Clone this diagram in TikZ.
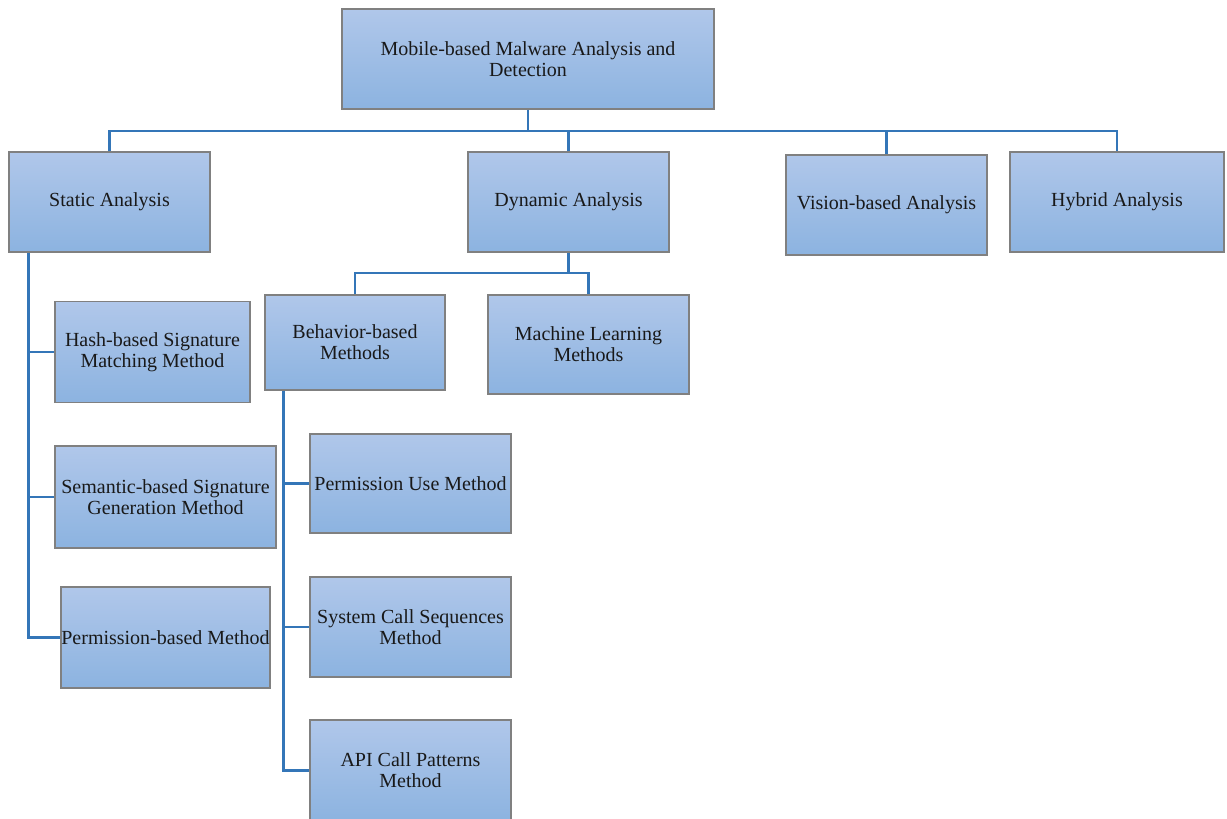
\documentclass[tikz,border=0pt]{standalone}
\usepackage{fontspec}
\setmainfont{Liberation Serif}
\usetikzlibrary{calc}
\definecolor{boxtop}{RGB}{176,199,234}
\definecolor{boxbot}{RGB}{140,179,224}
\definecolor{boxline}{RGB}{128,128,128}
\definecolor{connblue}{RGB}{52,118,184}
\begin{document}
\begin{tikzpicture}[x=1pt,y=-1pt,
  mbox/.style={rectangle, draw=boxline, line width=1.3pt, top color=boxtop, bottom color=boxbot,
    align=center, inner sep=0pt, font=\fontsize{20}{21}\selectfont, text=black!90},
  conn/.style={draw=connblue, line width=2.8pt}]
\useasboundingbox (0,0) rectangle (1227,819);
% nodes
\node[mbox, minimum width=372pt, minimum height=100pt] (root) at (528,59) {Mobile-based Malware Analysis and\\Detection};
\node[mbox, minimum width=201pt, minimum height=100pt] (static) at (109.5,202) {Static Analysis};
\node[mbox, minimum width=201pt, minimum height=100pt] (dynamic) at (568.5,202) {Dynamic Analysis};
\node[mbox, minimum width=201pt, minimum height=100pt] (vision) at (886.5,205) {Vision-based Analysis};
\node[mbox, minimum width=214pt, minimum height=100pt] (hybrid) at (1117,202) {Hybrid Analysis};
\node[mbox, minimum width=195pt, minimum height=101pt] (hash) at (152.5,352) {Hash-based Signature\\Matching Method};
\node[mbox, minimum width=221pt, minimum height=102pt] (sem) at (165.5,497) {Semantic-based Signature\\Generation Method};
\node[mbox, minimum width=209pt, minimum height=101pt] (perm) at (165.5,637.5) {Permission-based Method};
\node[mbox, minimum width=180pt, minimum height=95pt] (behav) at (355,342.5) {Behavior-based\\Methods};
\node[mbox, minimum width=201pt, minimum height=99pt] (ml) at (588.5,344.5) {Machine Learning\\Methods};
\node[mbox, minimum width=201pt, minimum height=99pt] (puse) at (410.5,483.5) {Permission Use Method};
\node[mbox, minimum width=201pt, minimum height=100pt] (sys) at (410.5,627) {System Call Sequences\\Method};
\node[mbox, minimum width=201pt, minimum height=101pt] (api) at (410.5,770.5) {API Call Patterns\\Method};
% top bus
\coordinate (bus) at (528,131);
\draw[conn] (root.south) -- (bus);
\draw[conn] (static.north) |- (bus) -| (hybrid.north);
\draw[conn] (dynamic.north) -- (dynamic.north |- bus);
\draw[conn] (vision.north) -- (vision.north |- bus);
% static branch
\coordinate (sv) at ($(static.south west)+(20,0)$);
\draw[conn] (sv) |- (perm.west);
\draw[conn] (hash.west) -- (hash.west -| sv);
\draw[conn] (sem.west) -- (sem.west -| sv);
% dynamic branch
\coordinate (dbus) at (568.5,273);
\draw[conn] (dynamic.south) -- (dbus);
\draw[conn] (behav.north) |- (dbus) -| (ml.north);
% behaviour branch
\coordinate (bv) at ($(behav.south west)+(19,0)$);
\draw[conn] (bv) |- (api.west);
\draw[conn] (puse.west) -- (puse.west -| bv);
\draw[conn] (sys.west) -- (sys.west -| bv);
\end{tikzpicture}
\end{document}
